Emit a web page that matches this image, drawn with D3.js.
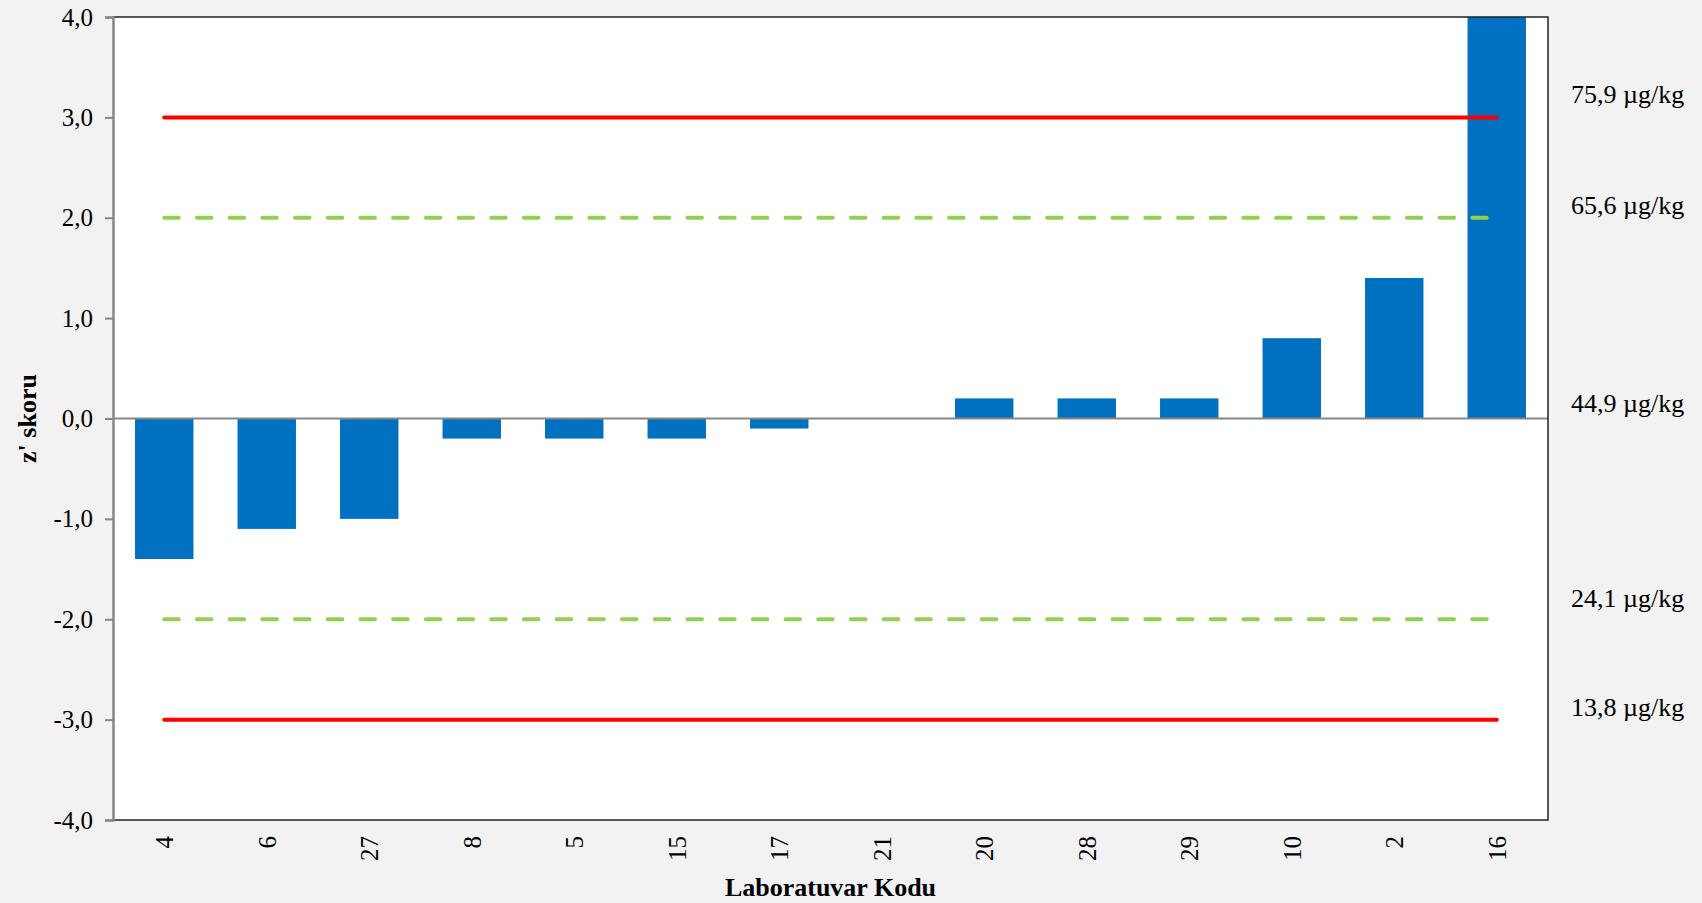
<!DOCTYPE html>
<html>
<head>
<meta charset="utf-8">
<script src="https://cdn.jsdelivr.net/npm/d3@7"></script>
<style>
  body { margin: 0; background: #f2f2f2; }
  svg { display: block; font-family: "Liberation Serif", "Times New Roman", serif; }
  svg text { font-family: "Liberation Serif", "Times New Roman", serif; }
</style>
</head>
<body>
<svg id="drawing_region"></svg>
<script>
// lab codes (x axis order) and z' scores
const labs = ['4', '6', '27', '8', '5', '15', '17', '21', '20', '28', '29', '10', '2', '16'];
const zScores = [-1.4, -1.1, -1.0, -0.2, -0.2, -0.2, -0.1, 0.0, 0.2, 0.2, 0.2, 0.8, 1.4, 4.8];

// y axis ticks
const yTicks = [-4, -3, -2, -1, 0, 1, 2, 3, 4];

// limit lines and the concentrations written on the right
const limitValues = [3, 2, -2, -3];
const limitTypes = ['action', 'warning', 'warning', 'action'];
const concValues = [3, 2, 0, -2, -3];
const concLabels = ['75,9 µg/kg', '65,6 µg/kg', '44,9 µg/kg', '24,1 µg/kg', '13,8 µg/kg'];

let config = {
  width: 1702,
  height: 903,
  margin: {top: 17, right: 154, bottom: 83, left: 113},
  // how far each right-hand label sits above its line (px)
  conc_label_lift: [23, 13, 16, 21, 13]
};

const svg = d3.select('#drawing_region')
  .attr('width', config.width)
  .attr('height', config.height);

const chart_width = config.width - config.margin.left - config.margin.right;
const chart_height = config.height - config.margin.top - config.margin.bottom;

const chart = svg.append('g')
  .attr('transform', `translate(${config.margin.left}, ${config.margin.top})`);

const x_scale = d3.scaleBand()
  .domain(labs)
  .range([0, chart_width])
  .paddingInner(0.43)
  .paddingOuter(0.215);

const y_scale = d3.scaleLinear()
  .domain([-4, 4])
  .range([chart_height, 0]);

const locale = d3.formatLocale({decimal: ',', thousands: '.', grouping: [3], currency: ['', ''], minus: '-'});
const fmt = locale.format('.1f');

// plot background
chart.append('rect')
  .attr('width', chart_width)
  .attr('height', chart_height)
  .attr('fill', '#fff');

chart.append('clipPath').attr('id', 'clip')
  .append('rect').attr('width', chart_width).attr('height', chart_height);

// bars
chart.append('g').attr('clip-path', 'url(#clip)')
  .selectAll('rect')
  .data(labs)
  .join('rect')
  .attr('x', d => x_scale(d))
  .attr('width', x_scale.bandwidth())
  .attr('y', (d, i) => y_scale(Math.max(0, zScores[i])))
  .attr('height', (d, i) => Math.abs(y_scale(zScores[i]) - y_scale(0)))
  .attr('fill', '#0070c0');

// zero line
chart.append('line')
  .attr('x1', 0).attr('x2', chart_width)
  .attr('y1', y_scale(0)).attr('y2', y_scale(0))
  .attr('stroke', '#868686').attr('stroke-width', 2);

// limit lines
const xStart = x_scale(labs[0]) + x_scale.bandwidth() / 2;
const xEnd = x_scale(labs[labs.length - 1]) + x_scale.bandwidth() / 2;
chart.selectAll('.limit')
  .data(limitValues)
  .join('line')
  .attr('class', 'limit')
  .attr('x1', xStart).attr('x2', xEnd)
  .attr('y1', d => y_scale(d)).attr('y2', d => y_scale(d))
  .attr('stroke', (d, i) => limitTypes[i] === 'action' ? '#ff0000' : '#92d050')
  .attr('stroke-width', 4)
  .attr('stroke-linecap', 'round')
  .attr('stroke-dasharray', (d, i) => limitTypes[i] === 'action' ? null : '14.5,18.2');

// frame: top, right, bottom black
chart.append('path')
  .attr('d', `M0,0H${chart_width}V${chart_height}H0`)
  .attr('fill', 'none')
  .attr('stroke', '#222')
  .attr('stroke-width', 1.5);

// y axis
const yaxis = d3.axisLeft(y_scale)
  .tickValues(yTicks)
  .tickFormat(fmt)
  .tickSize(8)
  .tickPadding(12);

const yaxis_group = chart.append('g').call(yaxis)
  .attr('font-family', '"Liberation Serif", serif')
  .attr('font-size', 25);
yaxis_group.select('.domain').attr('stroke', '#868686').attr('stroke-width', 2.5);
yaxis_group.selectAll('.tick line').attr('stroke', '#868686').attr('stroke-width', 2);
yaxis_group.selectAll('.tick text').attr('fill', '#000');

// x tick labels (rotated)
chart.append('g')
  .selectAll('text')
  .data(labs)
  .join('text')
  .attr('transform', d => `translate(${x_scale(d) + x_scale.bandwidth() / 2}, ${chart_height + 16}) rotate(-90)`)
  .attr('text-anchor', 'end')
  .attr('dy', '0.35em')
  .attr('font-size', 25)
  .text(d => d);

// right side concentration labels
svg.append('g')
  .selectAll('text')
  .data(concLabels)
  .join('text')
  .attr('x', config.margin.left + chart_width + 23)
  .attr('y', (d, i) => config.margin.top + y_scale(concValues[i]) - config.conc_label_lift[i])
  .attr('dy', '0.35em')
  .attr('font-size', 26)
  .text(d => d);

// axis titles
svg.append('text')
  .attr('x', config.margin.left + chart_width / 2)
  .attr('y', 896)
  .attr('text-anchor', 'middle')
  .attr('font-size', 26)
  .attr('font-weight', 'bold')
  .text('Laboratuvar Kodu');

svg.append('text')
  .attr('transform', `translate(36, ${config.margin.top + chart_height / 2}) rotate(-90)`)
  .attr('text-anchor', 'middle')
  .attr('font-size', 26)
  .attr('font-weight', 'bold')
  .text("z' skoru");
</script>
</body>
</html>
